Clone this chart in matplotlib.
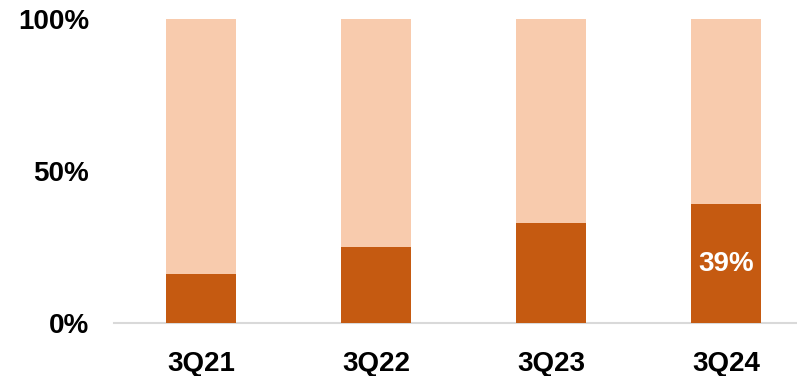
import numpy as np
import matplotlib.pyplot as plt

plt.rcParams['font.family'] = ['Liberation Sans', 'DejaVu Sans']

# Share of the quarter, percent
quarters = ['3Q21', '3Q22', '3Q23', '3Q24']
share = [16, 25, 33, 39]
rest = [100 - s for s in share]
labelled = [False, False, False, True]

dark = '#C55A11'
light = '#F8CBAD'

fig = plt.figure(figsize=(7.97, 3.76), dpi=100)
ax = fig.add_axes([114 / 797, 1 - 323 / 376, 683 / 797, 304 / 376])

x = np.arange(len(quarters))
ax.bar(x, share, width=0.4, color=dark, zorder=2)
ax.bar(x, rest, width=0.4, bottom=share, color=light, zorder=2)

for xi, s, show in zip(x, share, labelled):
    if show:
        ax.text(xi, s / 2, f'{s}%', ha='center', va='center',
                color='white', fontsize=20, fontweight='bold', zorder=3)

ax.set_xlim(-0.5, 3.5 - 16.5 / 175)
ax.set_ylim(0, 100)
ax.set_xticks(x)
ax.set_xticklabels(quarters, fontsize=20, fontweight='bold')
ax.set_yticks([0, 50, 100])
ax.set_yticklabels(['0%', '50%', '100%'], fontsize=20, fontweight='bold')
ax.tick_params(axis='both', length=0)
ax.tick_params(axis='x', pad=20)
ax.tick_params(axis='y', pad=18)

for side in ['top', 'right', 'left']:
    ax.spines[side].set_visible(False)
ax.spines['bottom'].set_color('#D9D9D9')
ax.spines['bottom'].set_linewidth(1.5)
ax.spines['bottom'].set_zorder(1)

fig.savefig('out.png', dpi=100)
